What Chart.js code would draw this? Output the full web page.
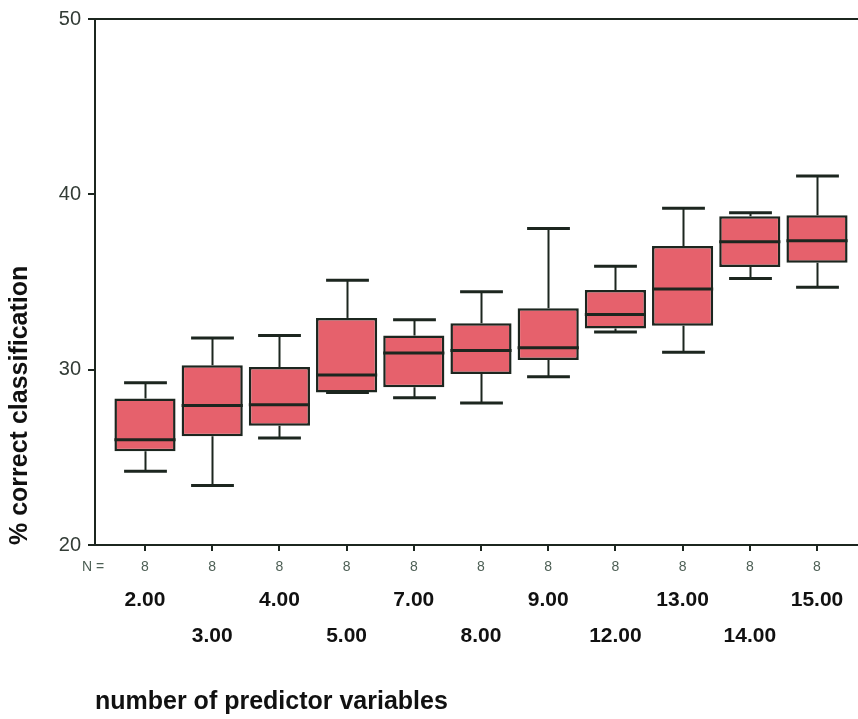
<!DOCTYPE html>
<html>
<head>
<meta charset="utf-8">
<script src="https://cdn.jsdelivr.net/npm/chart.js@4/dist/chart.umd.min.js"></script>
<style>
  html, body { margin: 0; padding: 0; background: #ffffff; }
  #wrap { width: 858px; height: 719px; position: relative; }
</style>
</head>
<body>
<div id="wrap"><canvas id="chart"></canvas></div>
<script>
// Number of predictor variables (one box per group)
const categories = ['2.00', '3.00', '4.00', '5.00', '7.00', '8.00', '9.00', '12.00', '13.00', '14.00', '15.00'];
// Cases per group
const counts = [8, 8, 8, 8, 8, 8, 8, 8, 8, 8, 8];
// Five-number summaries of % correct classification
const whiskerLow  = [24.2, 23.4, 26.1, 28.7, 28.4, 28.1, 29.6, 32.15, 31.0, 35.2, 34.7];
const q1          = [25.35, 26.2, 26.8, 28.7, 29.0, 29.75, 30.55, 32.35, 32.5, 35.85, 36.1];
const median      = [26.0, 27.95, 28.0, 29.7, 30.95, 31.1, 31.25, 33.15, 34.6, 37.3, 37.35];
const q3          = [28.35, 30.25, 30.15, 32.95, 31.95, 32.65, 33.5, 34.55, 37.05, 38.75, 38.8];
const whiskerHigh = [29.25, 31.8, 31.95, 35.1, 32.85, 34.45, 38.05, 35.9, 39.2, 38.95, 41.05];
// Value axis ticks
const yTicks = [20, 30, 40, 50];

const INK = '#1c261f';
const FONT = '"Liberation Sans", Arial, Helvetica, sans-serif';

// Whiskers go behind the boxes, medians on top of them
const boxPlotParts = {
  id: 'boxPlotParts',
  beforeDatasetsDraw(chart) {
    const { ctx, scales: { x, y } } = chart;
    const meta = chart.getDatasetMeta(0);
    ctx.save();
    ctx.strokeStyle = INK;
    ctx.lineWidth = 2;
    // top frame line
    ctx.beginPath();
    ctx.moveTo(chart.chartArea.left, chart.chartArea.top);
    ctx.lineTo(chart.chartArea.right, chart.chartArea.top);
    ctx.stroke();
    categories.forEach((c, i) => {
      const cx = Math.round(x.getPixelForValue(i)) + 0.5;
      const half = meta.data[i].width * 0.35;
      const yHi = y.getPixelForValue(whiskerHigh[i]);
      const yLo = y.getPixelForValue(whiskerLow[i]);
      const yQ3 = y.getPixelForValue(q3[i]);
      const yQ1 = y.getPixelForValue(q1[i]);
      ctx.lineWidth = 2;
      ctx.beginPath();
      ctx.moveTo(cx, yHi); ctx.lineTo(cx, yQ3);
      ctx.moveTo(cx, yQ1); ctx.lineTo(cx, yLo);
      ctx.stroke();
      ctx.lineWidth = 3;
      ctx.beginPath();
      ctx.moveTo(cx - half, yHi); ctx.lineTo(cx + half, yHi);
      ctx.moveTo(cx - half, yLo); ctx.lineTo(cx + half, yLo);
      ctx.stroke();
    });
    ctx.restore();
  },
  afterDatasetsDraw(chart) {
    const { ctx, scales: { y } } = chart;
    const meta = chart.getDatasetMeta(0);
    ctx.save();
    ctx.strokeStyle = INK;
    ctx.lineWidth = 3;
    categories.forEach((c, i) => {
      const bar = meta.data[i];
      const ym = y.getPixelForValue(median[i]);
      ctx.beginPath();
      ctx.moveTo(bar.x - bar.width / 2, ym);
      ctx.lineTo(bar.x + bar.width / 2, ym);
      ctx.stroke();
    });
    ctx.restore();
  }
};

// Group sizes, staggered category labels and the horizontal axis title
const categoryLabels = {
  id: 'categoryLabels',
  afterDraw(chart) {
    const { ctx, scales: { x } } = chart;
    ctx.save();
    ctx.textBaseline = 'alphabetic';
    ctx.fillStyle = '#4d5f55';
    ctx.font = '14px ' + FONT;
    ctx.textAlign = 'left';
    ctx.fillText('N =', 82, 571);
    ctx.textAlign = 'center';
    counts.forEach((n, i) => ctx.fillText(String(n), x.getPixelForValue(i), 571));
    ctx.fillStyle = '#111111';
    ctx.font = 'bold 21px ' + FONT;
    categories.forEach((c, i) => {
      ctx.fillText(c, x.getPixelForValue(i), i % 2 === 0 ? 606 : 642);
    });
    ctx.textAlign = 'left';
    ctx.font = 'bold 25px ' + FONT;
    ctx.fillText('number of predictor variables', 95, 709);
    ctx.restore();
  }
};

new Chart(document.getElementById('chart'), {
  type: 'bar',
  data: {
    datasets: [{
      data: categories.map((c, i) => ({ x: i, y: [q1[i], q3[i]] })),
      backgroundColor: '#e6616c',
      borderColor: INK,
      borderWidth: 2.5,
      borderSkipped: false,
      barPercentage: 0.91,
      categoryPercentage: 1.0
    }]
  },
  options: {
    responsive: true,
    maintainAspectRatio: false,
    animation: false,
    layout: { padding: { top: 16, right: 0, bottom: 0, left: 0 } },
    plugins: { legend: { display: false }, tooltip: { enabled: false } },
    scales: {
      x: {
        type: 'linear',
        offset: false,
        min: -0.744,
        max: 10.61,
        afterBuildTicks(s) { s.ticks = categories.map((c, i) => ({ value: i })); },
        afterFit(s) { s.height = 174; },
        ticks: { display: false },
        grid: { offset: false, drawOnChartArea: false, drawTicks: true, tickLength: 6, color: INK, lineWidth: 2 },
        border: { display: true, color: INK, width: 2 }
      },
      y: {
        min: 20,
        max: 50,
        afterBuildTicks(s) { s.ticks = yTicks.map(v => ({ value: v })); },
        afterFit(s) { s.width = 95; },
        ticks: {
          padding: 7,
          color: '#333c36',
          font: { family: FONT, size: 20 }
        },
        grid: { drawOnChartArea: false, drawTicks: true, tickLength: 7, color: INK, lineWidth: 2 },
        border: { display: true, color: INK, width: 2 },
        title: {
          display: true,
          text: '% correct classification',
          align: 'start',
          color: '#111111',
          font: { family: FONT, size: 25, weight: 'bold' },
          padding: { top: 5, bottom: 0 }
        }
      }
    }
  },
  plugins: [boxPlotParts, categoryLabels]
});
</script>
</body>
</html>
